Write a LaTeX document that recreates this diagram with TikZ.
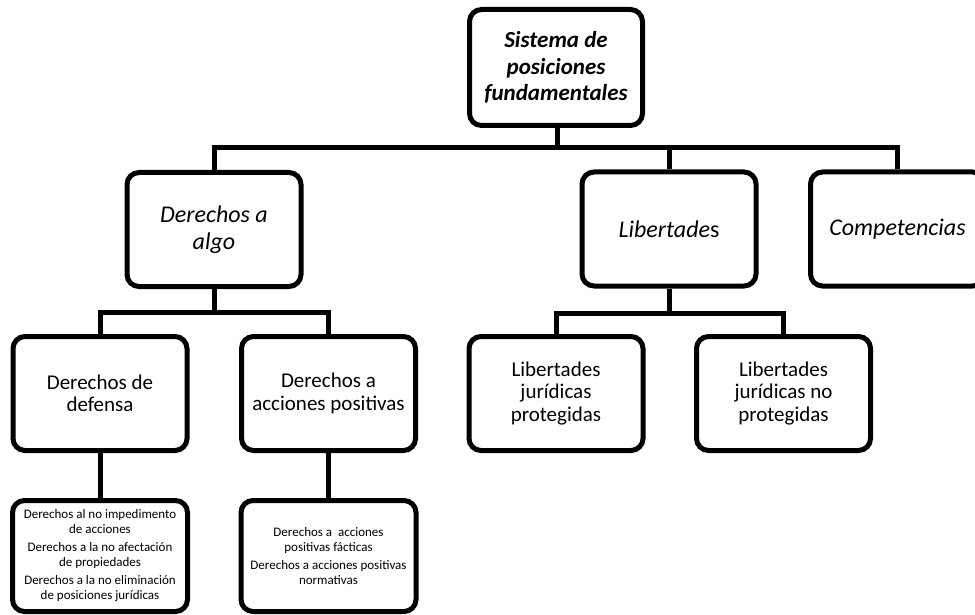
\documentclass[tikz,border=0pt]{standalone}
\usepackage{fontspec}
\setmainfont{Carlito}
\begin{document}
\begin{tikzpicture}[x=1pt,y=-1pt,
  box/.style={draw, line width=5pt, rounded corners=12pt, inner sep=0pt, align=center, minimum width=174pt, minimum height=114pt},
  smallbox/.style={box, minimum width=175pt, minimum height=111pt},
  conn/.style={line width=5pt},
  rootf/.style={font=\fontsize{23}{26.5}\selectfont},
  big/.style={font=\fontsize{24}{26.5}\selectfont},
  mid/.style={font=\fontsize{21}{22.5}\selectfont},
  tiny/.style={font=\fontsize{13}{15}\selectfont}]
\path[use as bounding box] (0,0) rectangle (975,615);
\node[box, rootf, minimum width=173pt, minimum height=116pt] (root) at (556,67.5) {\bfseries\itshape Sistema de\\ \bfseries\itshape posiciones\\ \bfseries\itshape fundamentales};
\node[box, big] (algo) at (214,229.5) {\itshape Derechos a\\ \itshape algo};
\node[box, big] (lib) at (669,229) {\itshape Libertade\upshape s};
\node[box, big] (comp) at (897.5,229) {\itshape Competencias};
\node[box, mid] (def) at (100,393.5) {Derechos de\\ defensa};
\node[box, mid] (pos) at (328.5,393.5) {Derechos a\\ acciones positivas};
\node[box, mid] (lp) at (556,393.5) {Libertades\\ jurídicas\\ protegidas};
\node[box, mid] (lnp) at (783.5,393.5) {Libertades\\ jurídicas no\\ protegidas};
\node[smallbox, tiny] (defl) at (100,556) {Derechos al no impedimento\\ de acciones\\[3pt] Derechos a la no afectación\\ de propiedades\\[3pt] Derechos a la no eliminación\\ de posiciones jurídicas};
\node[smallbox, tiny] (posl) at (328.5,556) {Derechos a\ \ acciones\\ positivas fácticas\\[3pt] Derechos a acciones positivas\\ normativas};
\coordinate (b1) at (557,148);
\coordinate (b2) at (214,312);
\coordinate (b3) at (669,313);
\draw[conn] (root.south -| b1) -- (b1);
\draw[conn] (b1) -| (algo.north);
\draw[conn] (b1) -| (lib.north);
\draw[conn] (b1) -| (comp.north);
\draw[conn] (algo.south) -- (b2);
\draw[conn] (b2) -| (def.north);
\draw[conn] (b2) -| (pos.north);
\draw[conn] (lib.south) -- (b3);
\draw[conn] (b3) -| (lp.north);
\draw[conn] (b3) -| (lnp.north);
\draw[conn] (def.south) -- (defl.north);
\draw[conn] (pos.south) -- (posl.north);
\end{tikzpicture}
\end{document}
